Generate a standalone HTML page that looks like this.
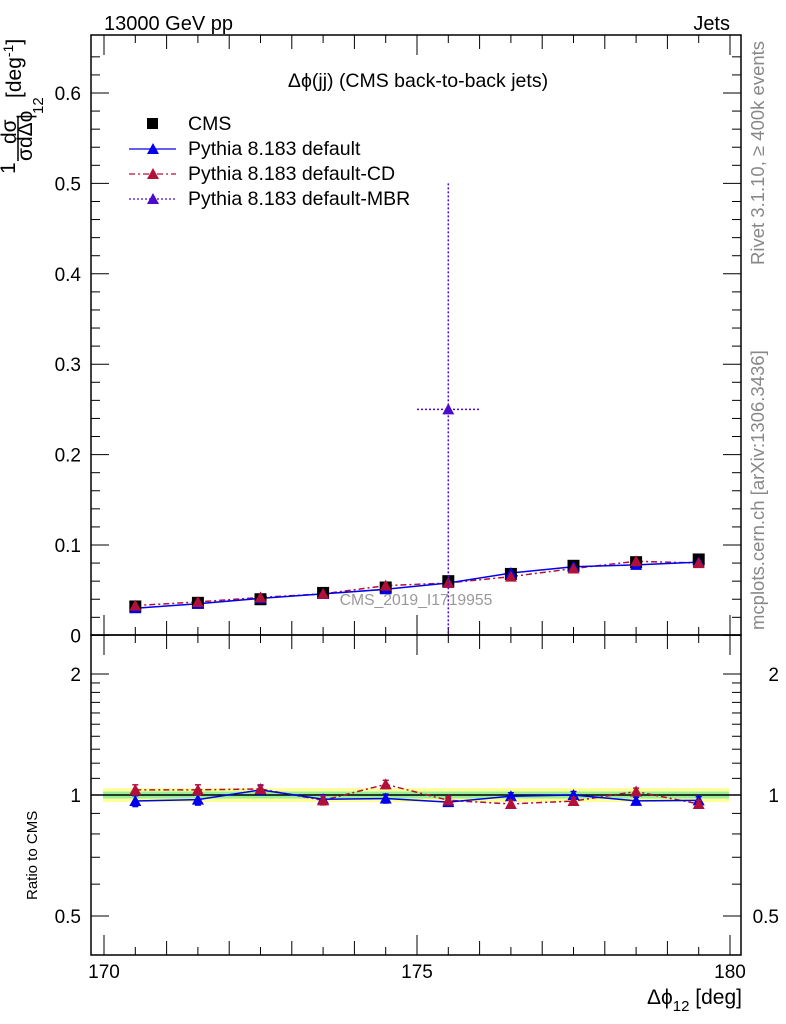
<!DOCTYPE html>
<html><head><meta charset="utf-8"><style>
body{margin:0;background:#fff}
svg{display:block;font-family:"Liberation Sans","DejaVu Sans",sans-serif}
</style></head><body>
<svg id="c" width="786" height="1024" viewBox="0 0 786 1024">
<rect width="786" height="1024" fill="#fff"/>
<g id="g"></g>
<text x="104" y="30" font-size="20">13000 GeV pp</text>
<text x="730" y="30" font-size="20" text-anchor="end">Jets</text>
<text x="418" y="87" font-size="19.5" text-anchor="middle">Δϕ(jj) (CMS back-to-back jets)</text>
<text x="416" y="605" font-size="15.7" fill="#999" text-anchor="middle">CMS_2019_I1719955</text>
<text transform="translate(764,265) rotate(-90)" font-size="18.5" fill="#888">Rivet 3.1.10, ≥ 400k events</text>
<text transform="translate(764,630) rotate(-90)" font-size="18.5" fill="#888">mcplots.cern.ch [arXiv:1306.3436]</text>
<g font-size="21">
<text transform="translate(15,174) rotate(-90)">1</text>
<text transform="translate(16,144) rotate(-90)">dσ</text>
<line x1="18" y1="117" x2="18" y2="161" stroke="#000" stroke-width="1.5"/>
<text transform="translate(32,161) rotate(-90)">σdΔϕ</text>
<text transform="translate(43,114) rotate(-90)" font-size="15">12</text>
<text transform="translate(21,98) rotate(-90)">[deg<tspan font-size="14" dy="-8">-1</tspan><tspan dy="8">]</tspan></text>
</g>
<text transform="translate(37,900) rotate(-90)" font-size="15">Ratio to CMS</text>
<text x="742" y="1004" font-size="21" text-anchor="end">Δϕ<tspan font-size="15" dy="7">12</tspan><tspan dy="-7"> [deg]</tspan></text>
</svg>
<script>
const xCenters=[170.5,171.5,172.5,173.5,174.5,175.5,176.5,177.5,178.5,179.5];
const cmsVals=[0.032,0.036,0.040,0.047,0.053,0.060,0.068,0.077,0.081,0.084];
const pyDefault=[0.030,0.035,0.041,0.046,0.051,0.058,0.069,0.076,0.078,0.081];
const pyCD=[0.033,0.037,0.042,0.046,0.055,0.058,0.065,0.074,0.082,0.080];
const mbrX=[175.5];
const mbrVals=[0.25];
const mbrErr=[0.25];
const ratioDefault=[0.966,0.974,1.03,0.976,0.98,0.96,0.993,1.0,0.967,0.97];
const ratioCD=[1.03,1.03,1.035,0.97,1.063,0.97,0.95,0.966,1.02,0.95];
const ratioErr=[0.03,0.03,0.025,0.025,0.025,0.02,0.02,0.02,0.02,0.02];
const mainTicks=[0,0.1,0.2,0.3,0.4,0.5,0.6];
const xTicks=[170,175,180];
const ratioTicks=[0.5,1,2];

const NS='http://www.w3.org/2000/svg';
const g=document.getElementById('g');
const L=91,R=741,T=35,MB=635,RB=955;
const X=v=>104+(v-170)*62.6;
const Y=v=>635.4-v*904;
const YR=r=>795-121*Math.log2(r);
function el(t,a,p){const e=document.createElementNS(NS,t);for(const k in a)e.setAttribute(k,a[k]);(p||g).appendChild(e);return e;}
let b=el('rect',{x:L+12,y:YR(1.04),width:R-L-24,height:YR(0.96)-YR(1.04),fill:'#ffff99'});


b=el('rect',{x:L+12,y:YR(1.02),width:R-L-24,height:YR(0.98)-YR(1.02),fill:'#99ee99'});


el('line',{x1:L,x2:R,y1:YR(1),y2:YR(1),stroke:'#000','stroke-width':1.5});
let f=el('rect',{x:L,y:T,width:R-L,height:MB-T,fill:'none',stroke:'#000','stroke-width':1.5});


f=el('rect',{x:L,y:MB,width:R-L,height:RB-MB,fill:'none',stroke:'#000','stroke-width':1.5});


for(let v=0;v<=0.66;v+=0.02){const y=Y(v);if(y<T)break;const maj=Math.abs(v*10-Math.round(v*10))<1e-6;const l=maj?18:9;
el('line',{x1:L,x2:L+l,y1:y,y2:y,stroke:'#000'});el('line',{x1:R,x2:R-l,y1:y,y2:y,stroke:'#000'});}
mainTicks.forEach(v=>{const t=el('text',{x:L-10,y:Y(v)+7,'font-size':19,'text-anchor':'end'});t.textContent=v===0?'0':v.toFixed(1);

});
[0.4,0.5,0.6,0.7,0.8,0.9,1,1.1,1.2,1.3,1.4,1.5,1.6,1.7,1.8,1.9,2].forEach(r=>{const y=YR(r);if(y>RB||y<MB)return;const maj=ratioTicks.includes(r);const l=maj?18:9;
el('line',{x1:L,x2:L+l,y1:y,y2:y,stroke:'#000'});el('line',{x1:R,x2:R-l,y1:y,y2:y,stroke:'#000'});});
ratioTicks.forEach(r=>{[L-10,R+38].forEach(x=>{const t=el('text',{x:x,y:YR(r)+7,'font-size':19,'text-anchor':'end'});t.textContent=String(r);

});});
for(let v=169.5;v<=180.3;v+=0.5){const x=X(v);if(x<L||x>R)continue;const maj=Math.abs(v-Math.round(v))<1e-6;const l5=Math.abs(v%5)<1e-6;const l=l5?20:(maj?14:8);
[[MB,-1],[T,1],[RB,-1],[MB,1]].forEach(([y0,d])=>el('line',{x1:x,x2:x,y1:y0,y2:y0+d*l,stroke:'#000'}));}
xTicks.forEach(v=>{const t=el('text',{x:X(v),y:978,'font-size':19,'text-anchor':'middle'});t.textContent=v;

});
function tri(x,y,c,name){const p=el('path',{d:`M${x},${y-6}L${x+6},${y+5}L${x-6},${y+5}Z`,fill:c});}
function series(xs,vs,ys,c,dash,name){const pts=xs.map((x,i)=>X(x)+','+ys(vs[i])).join(' ');
const l=el('polyline',{points:pts,fill:'none',stroke:c,'stroke-width':1.5,'stroke-dasharray':dash});

}
series(xCenters,pyCD,Y,'#b0103a','6 3 2 3','pythia-cd');
series(xCenters,pyDefault,Y,'#0000ee','','pythia-default');
xCenters.forEach((x,i)=>{const s=el('rect',{x:X(x)-6,y:Y(cmsVals[i])-6,width:12,height:12,fill:'#000'});

});
xCenters.forEach((x,i)=>tri(X(x),Y(pyDefault[i]),'#0000ee','pythia-default-point'));
xCenters.forEach((x,i)=>tri(X(x),Y(pyCD[i]),'#b0103a','pythia-cd-point'));
mbrX.forEach((x,i)=>{const c='#4b0acc';
el('line',{x1:X(x),x2:X(x),y1:Y(mbrVals[i]+mbrErr[i]),y2:MB,stroke:c,'stroke-width':1.5,'stroke-dasharray':'2 2'});
el('line',{x1:X(x-0.5),x2:X(x+0.5),y1:Y(mbrVals[i]),y2:Y(mbrVals[i]),stroke:c,'stroke-width':1.5,'stroke-dasharray':'2 2'});
tri(X(x),Y(mbrVals[i]),c,'pythia-mbr-point');});
series(xCenters,ratioCD,YR,'#b0103a','6 3 2 3','ratio-cd');
series(xCenters,ratioDefault,YR,'#0000ee','','ratio-default');
[[ratioDefault,'#0000ee','ratio-default-point'],[ratioCD,'#b0103a','ratio-cd-point']].forEach(([vs,c,n])=>{
xCenters.forEach((x,i)=>{const px=X(x);const y1=YR(vs[i]+ratioErr[i]),y2=YR(vs[i]-ratioErr[i]);
el('line',{x1:px,x2:px,y1:y1,y2:y2,stroke:c,'stroke-width':1.5});
el('line',{x1:px-3,x2:px+3,y1:y1,y2:y1,stroke:c,'stroke-width':1.5});
el('line',{x1:px-3,x2:px+3,y1:y2,y2:y2,stroke:c,'stroke-width':1.5});
tri(px,YR(vs[i]),c,n);});});
const leg=[['CMS','#000','sq',''],['Pythia 8.183 default','#0000ee','tri',''],['Pythia 8.183 default-CD','#b0103a','tri','6 3 2 3'],['Pythia 8.183 default-MBR','#4b0acc','tri','2 2']];
leg.forEach((e,i)=>{const y=124+i*25;const lg=el('g',{});


if(e[2]==='sq'){el('rect',{x:147,y:y-6,width:11,height:11,fill:'#000'},lg);}
else{el('line',{x1:129,x2:176,y1:y,y2:y,stroke:e[1],'stroke-width':1.3,'stroke-dasharray':e[3]},lg);
el('path',{d:`M153,${y-6}L159,${y+5}L147,${y+5}Z`,fill:e[1]},lg);}
const t=el('text',{x:188,y:y+6,'font-size':19.5},lg);t.textContent=e[0];});
</script>
</body></html>
